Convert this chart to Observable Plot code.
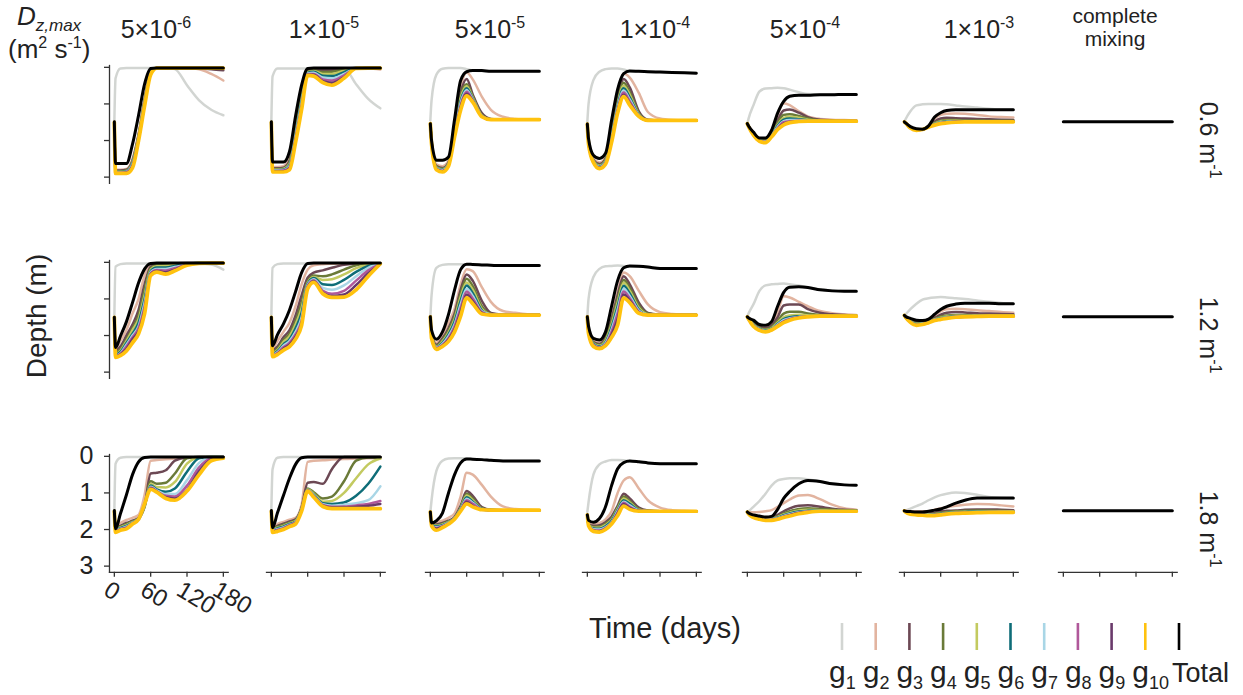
<!DOCTYPE html>
<html><head><meta charset="utf-8">
<script src="https://cdn.jsdelivr.net/npm/d3@7"></script>
<script src="https://cdn.jsdelivr.net/npm/@observablehq/plot@0.6"></script>
<style>
body{margin:0;background:#fff;}
#chart{position:relative;width:1243px;height:695px;overflow:hidden;font-family:"Liberation Sans",Arial,sans-serif;background:#fff;}
#chart svg{position:absolute;background:transparent;max-width:none;}
</style></head><body><div id="chart"></div>
<script>
// ---------- data ----------
const days = [0, 2, 10, 20, 30, 40, 50, 60, 70, 85, 100, 120, 140, 160, 180];
const seriesNames = ["g1","g2","g3","g4","g5","g6","g7","g8","g9","g10","Total"];
const seriesColors = ["#d2d5d2","#e2b4a0","#6c4854","#6a7a38","#c3ca60","#0e6d78","#a9d6e6","#b0589a","#6a3a6b","#ffc20e","#000000"];
const seriesWidths = [2.5, 2.5, 2.5, 2.5, 2.5, 2.5, 2.5, 2.5, 2.5, 3.7, 3.0];
const dzBase = ["5×10","1×10","5×10","1×10","5×10","1×10"];
const dzExp = ["-6","-5","-5","-4","-4","-3"];
const kdLabels = ["0.6", "1.2", "1.8"];
const xTicks = [0, 60, 120, 180];
const yTicks = [0, 1, 2, 3];
const mixDays = [0, 180];
const mixDepth = [1.49, 1.49, 1.49];

const r1c1 = [
[1.49,0.3,0.03,0.02,0.02,0.02,0.02,0.02,0.02,0.02,0.05,0.49,0.9,1.16,1.31],
[1.5,2.8,2.8,2.78,2.5,1.8,0.85,0.1,0.02,0.02,0.02,0.02,0.05,0.18,0.36],
[1.5,2.82,2.82,2.8,2.55,1.85,0.9,0.12,0.02,0.02,0.02,0.02,0.03,0.05,0.08],
[1.5,2.84,2.84,2.82,2.58,1.88,0.92,0.13,0.02,0.02,0.02,0.02,0.02,0.02,0.02],
[1.5,2.85,2.85,2.83,2.6,1.9,0.94,0.14,0.02,0.02,0.02,0.02,0.02,0.02,0.02],
[1.5,2.86,2.86,2.84,2.62,1.92,0.96,0.15,0.02,0.02,0.02,0.02,0.02,0.02,0.02],
[1.5,2.87,2.87,2.85,2.65,1.94,0.98,0.16,0.02,0.02,0.02,0.02,0.02,0.02,0.02],
[1.5,2.88,2.88,2.86,2.68,1.96,1.0,0.17,0.02,0.02,0.02,0.02,0.02,0.02,0.02],
[1.5,2.89,2.89,2.88,2.7,1.98,1.02,0.18,0.02,0.02,0.02,0.02,0.02,0.02,0.02],
[1.5,2.9,2.9,2.9,2.75,2.0,1.05,0.2,0.02,0.02,0.02,0.02,0.02,0.02,0.02],
[1.49,2.63,2.63,2.63,2.1,1.31,0.45,0.03,0.02,0.02,0.02,0.02,0.02,0.02,0.02]];
const r1c2 = [
[1.49,0.25,0.03,0.03,0.03,0.03,0.03,0.03,0.03,0.03,0.03,0.03,0.46,0.86,1.12],
[1.5,2.72,2.72,2.7,2.45,1.55,0.6,0.08,0.03,0.04,0.03,0.03,0.03,0.03,0.06],
[1.5,2.76,2.76,2.74,2.55,1.65,0.7,0.1,0.05,0.08,0.07,0.03,0.02,0.02,0.02],
[1.5,2.78,2.78,2.76,2.6,1.72,0.78,0.12,0.08,0.13,0.12,0.06,0.02,0.02,0.02],
[1.5,2.8,2.8,2.78,2.64,1.78,0.85,0.14,0.1,0.18,0.18,0.09,0.03,0.02,0.02],
[1.5,2.81,2.81,2.8,2.67,1.83,0.92,0.15,0.12,0.23,0.24,0.13,0.03,0.02,0.02],
[1.5,2.82,2.82,2.81,2.7,1.88,0.98,0.17,0.15,0.28,0.3,0.18,0.03,0.02,0.02],
[1.5,2.83,2.83,2.82,2.73,1.93,1.04,0.18,0.18,0.33,0.36,0.22,0.03,0.02,0.02],
[1.5,2.84,2.84,2.84,2.76,1.98,1.1,0.2,0.2,0.38,0.42,0.27,0.03,0.02,0.02],
[1.5,2.86,2.86,2.86,2.8,2.05,1.15,0.22,0.24,0.42,0.49,0.3,0.03,0.02,0.02],
[1.49,2.59,2.59,2.59,2.3,1.33,0.48,0.03,0.02,0.02,0.02,0.02,0.02,0.02,0.02]];
const r1c3 = [
[1.45,0.9,0.2,0.04,0.02,0.02,0.02,0.05,0.09,0.1,0.11,0.11,0.11,0.11,0.11],
[1.54,2.0,2.65,2.7,2.55,1.6,0.55,0.14,0.33,0.8,1.16,1.35,1.41,1.43,1.43],
[1.54,2.02,2.7,2.75,2.6,1.68,0.7,0.32,0.74,1.25,1.41,1.43,1.43,1.43,1.43],
[1.54,2.04,2.72,2.77,2.62,1.72,0.78,0.46,0.8,1.3,1.42,1.43,1.43,1.43,1.43],
[1.54,2.05,2.74,2.79,2.64,1.76,0.85,0.52,0.83,1.32,1.43,1.43,1.43,1.43,1.43],
[1.54,2.06,2.75,2.8,2.65,1.8,0.92,0.57,0.86,1.33,1.43,1.43,1.43,1.43,1.43],
[1.54,2.07,2.76,2.81,2.66,1.83,0.98,0.62,0.88,1.33,1.43,1.43,1.43,1.43,1.43],
[1.54,2.08,2.77,2.83,2.67,1.86,1.04,0.67,0.9,1.34,1.43,1.43,1.43,1.43,1.43],
[1.54,2.09,2.78,2.84,2.68,1.88,1.1,0.72,0.92,1.34,1.43,1.43,1.43,1.43,1.43],
[1.54,2.1,2.8,2.86,2.7,1.9,1.17,0.78,0.95,1.35,1.43,1.43,1.43,1.43,1.43],
[1.54,2.0,2.54,2.54,2.45,1.42,0.36,0.12,0.09,0.09,0.11,0.11,0.11,0.11,0.11]];
const r1c4 = [
[1.49,1.0,0.35,0.12,0.05,0.03,0.03,0.06,0.1,0.11,0.12,0.13,0.14,0.15,0.15],
[1.55,2.0,2.5,2.6,2.45,1.65,0.8,0.17,0.28,0.7,1.22,1.4,1.44,1.45,1.45],
[1.55,2.03,2.53,2.64,2.5,1.75,0.88,0.32,0.55,1.2,1.43,1.45,1.45,1.45,1.45],
[1.55,2.04,2.55,2.67,2.53,1.8,0.95,0.42,0.68,1.25,1.44,1.45,1.45,1.45,1.45],
[1.55,2.05,2.56,2.69,2.55,1.85,1.0,0.5,0.75,1.28,1.45,1.45,1.45,1.45,1.45],
[1.55,2.06,2.57,2.71,2.57,1.9,1.05,0.57,0.82,1.3,1.45,1.45,1.45,1.45,1.45],
[1.55,2.07,2.58,2.72,2.59,1.94,1.1,0.63,0.88,1.31,1.45,1.45,1.45,1.45,1.45],
[1.55,2.08,2.59,2.74,2.61,1.98,1.15,0.69,0.93,1.32,1.45,1.45,1.45,1.45,1.45],
[1.55,2.09,2.6,2.75,2.63,2.02,1.2,0.75,0.98,1.33,1.45,1.45,1.45,1.45,1.45],
[1.55,2.1,2.6,2.77,2.65,2.05,1.25,0.8,1.03,1.34,1.45,1.45,1.45,1.45,1.45],
[1.55,1.95,2.4,2.49,2.35,1.45,0.6,0.17,0.1,0.11,0.12,0.13,0.14,0.15,0.16]];
const r1c5 = [
[1.54,1.4,1.04,0.66,0.58,0.57,0.56,0.57,0.61,0.68,0.73,0.74,0.74,0.74,0.74],
[1.54,1.6,1.78,1.95,1.95,1.76,1.3,0.98,1.03,1.2,1.34,1.41,1.43,1.44,1.45],
[1.54,1.6,1.8,1.97,1.98,1.8,1.45,1.18,1.15,1.24,1.36,1.43,1.45,1.46,1.46],
[1.54,1.61,1.81,1.98,2.0,1.83,1.52,1.3,1.28,1.33,1.4,1.45,1.46,1.47,1.47],
[1.54,1.61,1.82,1.99,2.01,1.85,1.57,1.38,1.35,1.38,1.43,1.46,1.47,1.47,1.47],
[1.54,1.61,1.83,2.0,2.02,1.86,1.6,1.43,1.4,1.42,1.45,1.47,1.47,1.47,1.47],
[1.54,1.62,1.83,2.0,2.03,1.87,1.63,1.47,1.44,1.44,1.46,1.47,1.47,1.47,1.47],
[1.54,1.62,1.84,2.01,2.04,1.88,1.66,1.5,1.47,1.46,1.47,1.47,1.47,1.47,1.47],
[1.54,1.62,1.84,2.01,2.05,1.89,1.68,1.54,1.49,1.47,1.47,1.47,1.47,1.47,1.47],
[1.54,1.62,1.85,2.02,2.06,1.9,1.7,1.57,1.51,1.48,1.47,1.47,1.47,1.47,1.47],
[1.54,1.6,1.77,1.93,1.93,1.72,1.25,0.93,0.79,0.76,0.76,0.75,0.75,0.74,0.74]];
const r1c6 = [
[1.49,1.42,1.2,1.04,1.01,1.0,1.0,1.0,1.01,1.04,1.07,1.1,1.13,1.15,1.15],
[1.49,1.52,1.63,1.69,1.69,1.6,1.4,1.3,1.27,1.26,1.27,1.3,1.34,1.36,1.37],
[1.49,1.52,1.64,1.7,1.69,1.61,1.48,1.4,1.38,1.39,1.4,1.41,1.42,1.43,1.44],
[1.49,1.52,1.64,1.7,1.69,1.62,1.52,1.46,1.44,1.44,1.45,1.45,1.46,1.46,1.46],
[1.49,1.52,1.65,1.71,1.7,1.62,1.54,1.48,1.46,1.46,1.47,1.47,1.47,1.47,1.47],
[1.49,1.52,1.65,1.71,1.7,1.62,1.55,1.5,1.48,1.47,1.48,1.48,1.48,1.48,1.48],
[1.49,1.52,1.65,1.71,1.7,1.63,1.56,1.51,1.49,1.48,1.48,1.48,1.48,1.48,1.48],
[1.49,1.52,1.66,1.72,1.7,1.63,1.57,1.52,1.5,1.49,1.49,1.49,1.49,1.49,1.49],
[1.49,1.52,1.66,1.72,1.7,1.63,1.57,1.53,1.51,1.49,1.49,1.49,1.49,1.49,1.49],
[1.49,1.52,1.66,1.72,1.7,1.63,1.58,1.54,1.52,1.5,1.49,1.49,1.49,1.49,1.49],
[1.49,1.52,1.62,1.68,1.69,1.6,1.36,1.24,1.18,1.16,1.16,1.16,1.16,1.16,1.16]];
const r2c1 = [
[1.49,0.12,0.05,0.03,0.03,0.03,0.03,0.03,0.03,0.03,0.03,0.03,0.03,0.06,0.2],
[1.5,2.35,2.15,1.85,1.4,1.0,0.35,0.06,0.04,0.03,0.03,0.03,0.03,0.03,0.03],
[1.5,2.4,2.3,2.0,1.7,1.3,0.6,0.12,0.05,0.04,0.03,0.02,0.02,0.02,0.02],
[1.5,2.45,2.38,2.1,1.8,1.45,0.75,0.16,0.08,0.07,0.05,0.03,0.02,0.02,0.02],
[1.5,2.5,2.42,2.15,1.85,1.55,0.9,0.2,0.11,0.1,0.07,0.03,0.02,0.02,0.02],
[1.5,2.52,2.45,2.2,1.95,1.65,1.0,0.24,0.14,0.14,0.1,0.04,0.02,0.02,0.02],
[1.5,2.54,2.48,2.25,2.0,1.75,1.1,0.27,0.18,0.18,0.13,0.05,0.02,0.02,0.02],
[1.5,2.56,2.5,2.3,2.05,1.8,1.2,0.3,0.21,0.22,0.16,0.06,0.03,0.02,0.02],
[1.5,2.58,2.52,2.36,2.1,1.88,1.3,0.33,0.24,0.27,0.2,0.07,0.03,0.02,0.02],
[1.5,2.6,2.55,2.42,2.2,1.95,1.4,0.36,0.27,0.32,0.23,0.08,0.03,0.02,0.02],
[1.5,2.33,2.02,1.62,1.1,0.56,0.18,0.03,0.02,0.02,0.02,0.02,0.02,0.02,0.02]];
const r2c2 = [
[1.5,0.15,0.05,0.03,0.03,0.03,0.03,0.03,0.03,0.03,0.03,0.03,0.03,0.03,0.03],
[1.5,2.35,2.15,1.9,1.65,1.2,0.6,0.2,0.08,0.05,0.04,0.03,0.03,0.03,0.03],
[1.5,2.4,2.3,2.05,1.85,1.45,0.9,0.42,0.28,0.22,0.15,0.07,0.04,0.03,0.03],
[1.5,2.44,2.36,2.12,1.95,1.6,1.1,0.52,0.36,0.38,0.33,0.2,0.08,0.04,0.03],
[1.5,2.47,2.4,2.18,2.02,1.7,1.25,0.56,0.4,0.48,0.46,0.33,0.16,0.06,0.03],
[1.5,2.5,2.43,2.24,2.1,1.8,1.38,0.59,0.43,0.6,0.62,0.48,0.26,0.1,0.03],
[1.5,2.52,2.46,2.28,2.15,1.9,1.5,0.62,0.46,0.7,0.75,0.63,0.38,0.15,0.04],
[1.5,2.54,2.48,2.32,2.2,1.97,1.6,0.65,0.49,0.78,0.86,0.78,0.5,0.22,0.05],
[1.5,2.56,2.5,2.36,2.25,2.03,1.68,0.68,0.52,0.83,0.92,0.88,0.62,0.3,0.05],
[1.5,2.58,2.52,2.4,2.3,2.1,1.72,0.72,0.55,0.86,0.96,0.95,0.75,0.38,0.04],
[1.5,2.28,1.98,1.68,1.3,0.8,0.28,0.03,0.02,0.02,0.02,0.02,0.02,0.02,0.02]];
const r2c3 = [
[1.49,0.9,0.15,0.07,0.05,0.05,0.05,0.05,0.06,0.07,0.08,0.09,0.09,0.09,0.09],
[1.49,1.95,2.2,1.98,1.65,1.27,0.6,0.19,0.24,0.68,1.08,1.33,1.38,1.42,1.44],
[1.49,1.98,2.25,2.08,1.8,1.4,0.75,0.33,0.5,1.05,1.38,1.43,1.44,1.44,1.44],
[1.49,2.0,2.28,2.12,1.86,1.48,0.85,0.45,0.65,1.2,1.41,1.44,1.44,1.44,1.44],
[1.49,2.02,2.3,2.16,1.92,1.55,0.95,0.55,0.75,1.27,1.42,1.44,1.44,1.44,1.44],
[1.49,2.03,2.32,2.2,1.97,1.62,1.05,0.63,0.84,1.31,1.43,1.44,1.44,1.44,1.44],
[1.49,2.04,2.33,2.23,2.02,1.7,1.15,0.72,0.92,1.34,1.43,1.44,1.44,1.44,1.44],
[1.49,2.05,2.34,2.26,2.07,1.76,1.25,0.8,0.99,1.36,1.44,1.44,1.44,1.44,1.44],
[1.49,2.06,2.36,2.28,2.11,1.83,1.35,0.88,1.06,1.38,1.44,1.44,1.44,1.44,1.44],
[1.49,2.08,2.38,2.3,2.16,1.9,1.47,0.97,1.13,1.41,1.44,1.44,1.44,1.44,1.44],
[1.49,1.85,2.1,1.9,1.42,0.75,0.2,0.05,0.06,0.07,0.08,0.09,0.09,0.09,0.09]];
const r2c4 = [
[1.49,1.0,0.4,0.18,0.11,0.1,0.09,0.1,0.11,0.12,0.13,0.16,0.17,0.17,0.17],
[1.49,1.8,2.15,2.2,2.0,1.45,0.8,0.28,0.38,0.78,1.15,1.36,1.41,1.43,1.44],
[1.49,1.83,2.18,2.23,2.05,1.55,0.9,0.38,0.6,1.1,1.38,1.43,1.44,1.44,1.44],
[1.49,1.85,2.2,2.26,2.1,1.62,1.0,0.48,0.7,1.18,1.4,1.44,1.44,1.44,1.44],
[1.49,1.86,2.22,2.28,2.14,1.7,1.1,0.56,0.78,1.24,1.42,1.44,1.44,1.44,1.44],
[1.49,1.88,2.23,2.3,2.18,1.77,1.2,0.64,0.85,1.29,1.43,1.44,1.44,1.44,1.44],
[1.49,1.9,2.25,2.32,2.21,1.84,1.3,0.72,0.92,1.32,1.43,1.44,1.44,1.44,1.44],
[1.49,1.91,2.26,2.33,2.24,1.9,1.4,0.8,0.98,1.35,1.44,1.44,1.44,1.44,1.44],
[1.49,1.93,2.28,2.35,2.26,1.97,1.55,0.88,1.04,1.37,1.44,1.44,1.44,1.44,1.44],
[1.49,1.95,2.3,2.36,2.28,2.05,1.72,0.97,1.1,1.39,1.44,1.44,1.44,1.44,1.44],
[1.49,1.75,2.08,2.12,1.9,1.2,0.5,0.15,0.1,0.11,0.13,0.17,0.17,0.17,0.17]];
const r2c5 = [
[1.49,1.4,1.15,0.78,0.63,0.6,0.59,0.58,0.6,0.63,0.68,0.74,0.77,0.78,0.79],
[1.49,1.52,1.6,1.72,1.74,1.65,1.35,0.93,0.96,1.08,1.2,1.33,1.39,1.42,1.44],
[1.49,1.53,1.65,1.76,1.8,1.72,1.5,1.18,1.15,1.15,1.28,1.38,1.42,1.44,1.46],
[1.49,1.53,1.68,1.79,1.83,1.77,1.6,1.4,1.35,1.35,1.4,1.44,1.46,1.46,1.46],
[1.49,1.54,1.7,1.81,1.85,1.8,1.65,1.5,1.45,1.43,1.45,1.46,1.46,1.46,1.46],
[1.49,1.54,1.71,1.82,1.87,1.82,1.68,1.55,1.5,1.47,1.47,1.47,1.47,1.47,1.47],
[1.49,1.54,1.72,1.83,1.88,1.83,1.7,1.58,1.53,1.49,1.47,1.47,1.47,1.47,1.47],
[1.49,1.55,1.73,1.84,1.89,1.84,1.72,1.61,1.55,1.5,1.48,1.47,1.47,1.47,1.47],
[1.49,1.55,1.74,1.85,1.9,1.85,1.74,1.63,1.57,1.51,1.48,1.47,1.47,1.47,1.47],
[1.49,1.55,1.75,1.86,1.9,1.85,1.75,1.65,1.58,1.52,1.49,1.47,1.47,1.47,1.47],
[1.49,1.52,1.58,1.7,1.72,1.62,1.2,0.82,0.68,0.67,0.69,0.75,0.78,0.79,0.79]];
const r2c6 = [
[1.45,1.42,1.28,1.13,1.02,0.98,0.96,0.95,0.96,0.98,1.0,1.04,1.08,1.11,1.13],
[1.45,1.49,1.55,1.6,1.61,1.57,1.45,1.34,1.28,1.27,1.28,1.31,1.33,1.36,1.38],
[1.45,1.49,1.58,1.64,1.64,1.6,1.52,1.43,1.38,1.36,1.37,1.39,1.4,1.41,1.42],
[1.45,1.5,1.6,1.67,1.66,1.62,1.55,1.48,1.45,1.44,1.44,1.45,1.45,1.45,1.45],
[1.45,1.5,1.61,1.68,1.67,1.63,1.56,1.51,1.48,1.46,1.46,1.46,1.46,1.46,1.46],
[1.45,1.5,1.62,1.69,1.68,1.63,1.57,1.53,1.5,1.48,1.47,1.47,1.47,1.47,1.47],
[1.45,1.5,1.62,1.7,1.68,1.64,1.57,1.54,1.51,1.49,1.48,1.47,1.47,1.47,1.47],
[1.45,1.5,1.63,1.71,1.69,1.64,1.58,1.55,1.52,1.49,1.48,1.47,1.47,1.47,1.47],
[1.45,1.5,1.63,1.71,1.69,1.65,1.58,1.55,1.52,1.5,1.49,1.48,1.47,1.47,1.47],
[1.45,1.5,1.64,1.72,1.7,1.65,1.59,1.56,1.53,1.5,1.49,1.48,1.47,1.47,1.47],
[1.45,1.48,1.53,1.58,1.59,1.55,1.42,1.29,1.2,1.14,1.12,1.12,1.12,1.13,1.13]];
const r3c1 = [
[1.5,0.2,0.04,0.02,0.02,0.02,0.02,0.02,0.02,0.02,0.02,0.02,0.02,0.02,0.02],
[1.5,1.9,1.82,1.74,1.68,1.6,1.05,0.12,0.1,0.08,0.06,0.04,0.03,0.02,0.02],
[1.5,1.95,1.9,1.82,1.76,1.68,1.35,0.47,0.45,0.38,0.12,0.03,0.02,0.02,0.02],
[1.5,1.97,1.92,1.85,1.78,1.7,1.38,0.68,0.75,0.72,0.47,0.05,0.02,0.02,0.02],
[1.5,1.99,1.94,1.88,1.8,1.71,1.36,0.75,0.84,0.85,0.7,0.2,0.03,0.02,0.02],
[1.5,2.0,1.96,1.9,1.81,1.72,1.34,0.8,0.9,0.97,0.88,0.42,0.05,0.02,0.02],
[1.5,2.02,1.98,1.92,1.82,1.72,1.33,0.83,0.93,1.03,1.03,0.65,0.18,0.03,0.02],
[1.5,2.04,1.99,1.94,1.83,1.72,1.32,0.85,0.95,1.08,1.1,0.8,0.3,0.06,0.02],
[1.5,2.06,2.0,1.96,1.84,1.72,1.31,0.87,0.96,1.12,1.15,0.92,0.4,0.09,0.03],
[1.5,2.08,2.02,1.98,1.85,1.72,1.3,0.9,0.98,1.15,1.2,0.95,0.5,0.12,0.05],
[1.48,1.98,1.57,1.05,0.5,0.15,0.03,0.02,0.02,0.02,0.02,0.02,0.02,0.02,0.02]];
const r3c2 = [
[1.48,0.35,0.04,0.02,0.02,0.02,0.02,0.02,0.02,0.02,0.02,0.02,0.02,0.02,0.02],
[1.5,1.92,1.85,1.79,1.73,1.68,1.32,0.15,0.12,0.11,0.09,0.07,0.06,0.05,0.05],
[1.5,1.96,1.9,1.84,1.78,1.72,1.4,0.72,0.7,0.75,0.35,0.02,0.02,0.02,0.02],
[1.5,1.98,1.93,1.87,1.81,1.75,1.42,0.88,0.98,1.15,1.1,0.68,0.12,0.03,0.03],
[1.5,2.0,1.95,1.9,1.83,1.77,1.44,0.9,1.02,1.24,1.22,1.0,0.6,0.22,0.06],
[1.5,2.02,1.97,1.92,1.85,1.79,1.45,0.91,1.05,1.28,1.3,1.26,1.08,0.75,0.28],
[1.5,2.03,1.99,1.94,1.87,1.8,1.46,0.92,1.07,1.31,1.35,1.32,1.28,1.2,0.82],
[1.5,2.04,2.01,1.96,1.88,1.81,1.47,0.93,1.09,1.33,1.38,1.37,1.34,1.3,1.22],
[1.5,2.06,2.03,1.98,1.9,1.83,1.48,0.94,1.1,1.35,1.4,1.4,1.38,1.35,1.3],
[1.5,2.08,2.05,2.0,1.92,1.85,1.5,0.95,1.12,1.37,1.43,1.43,1.43,1.43,1.43],
[1.48,1.95,1.55,1.07,0.6,0.22,0.04,0.02,0.02,0.02,0.02,0.02,0.02,0.02,0.02]];
const r3c3 = [
[1.52,1.2,0.4,0.12,0.06,0.05,0.05,0.06,0.08,0.09,0.11,0.13,0.13,0.13,0.13],
[1.52,1.85,1.8,1.76,1.68,1.56,1.1,0.45,0.5,0.78,1.1,1.37,1.44,1.46,1.47],
[1.52,1.88,1.86,1.82,1.76,1.66,1.35,0.95,1.08,1.39,1.46,1.47,1.47,1.47,1.47],
[1.52,1.88,1.88,1.84,1.78,1.68,1.4,1.02,1.15,1.42,1.46,1.47,1.47,1.47,1.47],
[1.52,1.89,1.9,1.86,1.8,1.69,1.42,1.07,1.2,1.43,1.47,1.47,1.47,1.47,1.47],
[1.52,1.89,1.92,1.88,1.81,1.7,1.44,1.12,1.24,1.44,1.47,1.47,1.47,1.47,1.47],
[1.52,1.89,1.94,1.9,1.82,1.7,1.46,1.16,1.27,1.45,1.47,1.47,1.47,1.47,1.47],
[1.52,1.9,1.96,1.91,1.83,1.71,1.47,1.2,1.3,1.45,1.47,1.47,1.47,1.47,1.47],
[1.52,1.9,1.98,1.93,1.84,1.71,1.49,1.24,1.35,1.46,1.47,1.47,1.47,1.47,1.47],
[1.52,1.9,2.02,1.95,1.85,1.72,1.5,1.3,1.38,1.46,1.47,1.47,1.47,1.47,1.47],
[1.52,1.82,1.76,1.55,1.0,0.5,0.18,0.07,0.08,0.09,0.11,0.13,0.13,0.13,0.13]];
const r3c4 = [
[1.52,1.25,0.5,0.22,0.14,0.1,0.1,0.11,0.13,0.15,0.18,0.2,0.2,0.2,0.2],
[1.6,1.82,1.85,1.82,1.72,1.5,1.0,0.66,0.57,0.88,1.2,1.4,1.47,1.49,1.5],
[1.6,1.85,1.9,1.88,1.8,1.65,1.35,1.02,1.15,1.4,1.48,1.5,1.5,1.5,1.5],
[1.6,1.86,1.93,1.92,1.84,1.7,1.4,1.1,1.22,1.44,1.49,1.5,1.5,1.5,1.5],
[1.6,1.87,1.95,1.95,1.88,1.74,1.43,1.15,1.26,1.46,1.5,1.5,1.5,1.5,1.5],
[1.6,1.88,1.97,1.98,1.91,1.77,1.46,1.2,1.3,1.47,1.5,1.5,1.5,1.5,1.5],
[1.6,1.88,1.99,2.0,1.94,1.8,1.5,1.24,1.34,1.48,1.5,1.5,1.5,1.5,1.5],
[1.6,1.89,2.01,2.03,1.96,1.82,1.53,1.27,1.38,1.49,1.5,1.5,1.5,1.5,1.5],
[1.6,1.89,2.03,2.05,1.98,1.84,1.56,1.3,1.41,1.49,1.5,1.5,1.5,1.5,1.5],
[1.6,1.9,2.05,2.07,2.0,1.85,1.62,1.36,1.45,1.5,1.5,1.5,1.5,1.5,1.5],
[1.6,1.75,1.8,1.7,1.38,0.8,0.34,0.17,0.13,0.15,0.18,0.2,0.2,0.2,0.2]];
const r3c5 = [
[1.52,1.5,1.38,1.22,1.02,0.8,0.66,0.62,0.6,0.6,0.63,0.68,0.75,0.78,0.79],
[1.52,1.53,1.53,1.52,1.5,1.47,1.38,1.28,1.18,1.07,1.06,1.17,1.32,1.42,1.46],
[1.52,1.56,1.62,1.66,1.68,1.66,1.6,1.5,1.42,1.35,1.34,1.38,1.43,1.46,1.47],
[1.52,1.56,1.63,1.68,1.7,1.69,1.64,1.56,1.5,1.44,1.42,1.44,1.46,1.48,1.48],
[1.52,1.56,1.64,1.69,1.71,1.7,1.66,1.59,1.54,1.48,1.46,1.47,1.48,1.49,1.49],
[1.52,1.57,1.65,1.7,1.72,1.71,1.68,1.61,1.56,1.51,1.49,1.48,1.49,1.49,1.49],
[1.52,1.57,1.65,1.7,1.73,1.72,1.69,1.63,1.58,1.53,1.5,1.49,1.5,1.5,1.5],
[1.52,1.57,1.66,1.71,1.74,1.73,1.7,1.64,1.6,1.54,1.51,1.5,1.5,1.5,1.5],
[1.52,1.57,1.66,1.71,1.74,1.74,1.71,1.66,1.61,1.55,1.52,1.5,1.5,1.5,1.5],
[1.52,1.57,1.67,1.72,1.75,1.75,1.72,1.67,1.63,1.57,1.53,1.5,1.5,1.5,1.5],
[1.52,1.55,1.6,1.63,1.66,1.64,1.45,1.15,0.96,0.75,0.66,0.69,0.75,0.78,0.79]];
const r3c6 = [
[1.49,1.48,1.43,1.36,1.29,1.2,1.12,1.06,1.02,0.99,1.0,1.05,1.11,1.14,1.15],
[1.49,1.49,1.5,1.5,1.5,1.5,1.46,1.42,1.39,1.35,1.32,1.3,1.31,1.34,1.37],
[1.49,1.5,1.53,1.55,1.56,1.56,1.54,1.5,1.49,1.48,1.46,1.45,1.45,1.46,1.47],
[1.49,1.5,1.54,1.56,1.57,1.58,1.57,1.54,1.52,1.5,1.49,1.48,1.48,1.49,1.5],
[1.49,1.51,1.55,1.57,1.58,1.59,1.58,1.56,1.54,1.52,1.51,1.5,1.5,1.51,1.51],
[1.49,1.51,1.55,1.58,1.59,1.6,1.59,1.57,1.55,1.53,1.52,1.51,1.51,1.52,1.52],
[1.49,1.51,1.56,1.58,1.59,1.6,1.6,1.58,1.56,1.54,1.53,1.52,1.52,1.52,1.52],
[1.49,1.51,1.56,1.59,1.6,1.61,1.6,1.58,1.57,1.55,1.54,1.53,1.52,1.52,1.53],
[1.49,1.52,1.57,1.59,1.6,1.61,1.61,1.59,1.57,1.55,1.54,1.53,1.53,1.53,1.53],
[1.49,1.52,1.58,1.6,1.61,1.62,1.62,1.6,1.58,1.56,1.55,1.54,1.53,1.53,1.53],
[1.49,1.5,1.51,1.52,1.52,1.5,1.47,1.44,1.38,1.28,1.2,1.14,1.14,1.14,1.14]];

const panels = [
  [r1c1, r1c2, r1c3, r1c4, r1c5, r1c6],
  [r2c1, r2c2, r2c3, r2c4, r2c5, r2c6],
  [r3c1, r3c2, r3c3, r3c4, r3c5, r3c6]
];

// ---------- layout ----------
const FONT = '"Liberation Sans", Arial, sans-serif';
const AXIS = "#333";
const colLeft = [114, 271, 430, 587, 747, 904, 1063];   // pixel of day 0
const rowTop = [67, 262, 456];                          // pixel of depth 0
const pxDay = 109 / 180, pxM = 36.6;
const xDom = [-8, 188], yDom = [-0.05, 3.17];
const ML = 60, MR = 6, MT = 4, MB = 64;
const innerW = (xDom[1] - xDom[0]) * pxDay, innerH = (yDom[1] - yDom[0]) * pxM;
const chart = document.getElementById("chart");

function tidy(r, c) {
  if (c === 6) return mixDays.map(d => ({series: "Total", day: d, depth: mixDepth[r]}));
  return panels[r][c].flatMap((vals, s) => vals.map((v, i) => ({series: seriesNames[s], day: days[i], depth: v})));
}

function makePanel(r, c) {
  const left = c === 0, bottom = r === 2, labels = r === 2 && c === 0;
  const rows = tidy(r, c);
  const marks = [];
  seriesNames.forEach((name, s) => {
    const d = rows.filter(o => o.series === name);
    if (d.length) marks.push(Plot.line(d, {x: "day", y: "depth", stroke: seriesColors[s], strokeWidth: seriesWidths[s], curve: "monotone-x", strokeLinejoin: "round"}));
  });
  if (left) {
    marks.push(Plot.frame({anchor: "left", stroke: AXIS, strokeWidth: 1.3}));
    marks.push(Plot.axisY({ticks: yTicks, tickSize: 5, tickPadding: 11, stroke: AXIS, strokeWidth: 1.3, fontSize: 25,
      tickFormat: labels ? d => String(d) : () => ""}));
  }
  if (bottom) {
    marks.push(Plot.frame({anchor: "bottom", stroke: AXIS, strokeWidth: 1.3}));
    marks.push(Plot.axisX({ticks: xTicks, tickSize: 5, stroke: AXIS, strokeWidth: 1.3, tickFormat: () => ""}));
    if (labels) marks.push(Plot.text(xTicks, {x: d => d, frameAnchor: "bottom", text: d => String(d), rotate: 31,
      textAnchor: "start", dx: -12, dy: 22, fontSize: 24, fill: "#222"}));
  }
  const svg = Plot.plot({
    width: ML + innerW + MR, height: MT + innerH + MB,
    marginLeft: ML, marginRight: MR, marginTop: MT, marginBottom: MB,
    x: {domain: xDom, axis: bottom ? undefined : null, label: null},
    y: {domain: yDom, reverse: true, axis: left ? undefined : null, label: null},
    style: {fontFamily: FONT, fontSize: "24px", color: "#222", background: "transparent", overflow: "visible"},
    marks
  });
  svg.style.left = (colLeft[c] - (0 - xDom[0]) * pxDay - ML) + "px";
  svg.style.top = (rowTop[r] - (0 - yDom[0]) * pxM - MT) + "px";
  chart.appendChild(svg);
}

for (let r = 0; r < 3; r++) for (let c = 0; c < 7; c++) makePanel(r, c);

// ---------- text overlay & legend ----------
const ov = d3.select(chart).append("svg").attr("width", 1243).attr("height", 695)
  .style("left", "0px").style("top", "0px").style("font-family", FONT).attr("fill", "#222");

function sup(t, base, exp, bs, es, lift) {
  t.append("tspan").attr("font-size", bs).text(base);
  t.append("tspan").attr("font-size", es).attr("dy", -lift).text(exp);
}

const headerX = [156, 324, 490, 655, 805, 979];
dzBase.forEach((b, i) => {
  const t = ov.append("text").attr("x", headerX[i]).attr("y", 38).attr("text-anchor", "middle");
  sup(t, b, dzExp[i], 25, 16, 10);
});
ov.append("text").attr("x", 1115).attr("y", 23).attr("text-anchor", "middle").attr("font-size", 21).text("complete");
ov.append("text").attr("x", 1115).attr("y", 46).attr("text-anchor", "middle").attr("font-size", 21).text("mixing");

// D z,max label
const dz = ov.append("text").attr("x", 17).attr("y", 25).attr("font-style", "italic");
dz.append("tspan").attr("font-size", 26).text("D");
dz.append("tspan").attr("font-size", 17).attr("dy", 6).text("z,max");
const un = ov.append("text").attr("x", 8).attr("y", 58).attr("font-size", 26);
un.append("tspan").text("(m");
un.append("tspan").attr("font-size", 16).attr("dy", -10).text("2");
un.append("tspan").attr("dy", 10).text(" s");
un.append("tspan").attr("font-size", 16).attr("dy", -10).text("-1");
un.append("tspan").attr("dy", 10).text(")");

// row labels
kdLabels.forEach((k, r) => {
  const t = ov.append("text").attr("transform", `translate(1206,${rowTop[r] + 73}) rotate(90)`)
    .attr("text-anchor", "middle").attr("dy", "0.35em");
  t.append("tspan").attr("font-size", 25).text(k + " m");
  t.append("tspan").attr("font-size", 16).attr("dy", -10).text("-1");
});

// axis titles
ov.append("text").attr("transform", "translate(36,316) rotate(-90)").attr("text-anchor", "middle")
  .attr("dy", "0.35em").attr("font-size", 28).text("Depth (m)");
ov.append("text").attr("x", 665).attr("y", 638).attr("text-anchor", "middle").attr("font-size", 29).text("Time (days)");

// legend
const lg = ov.append("g");
seriesNames.forEach((name, i) => {
  const x = 842 + i * 33.7;
  lg.append("line").attr("x1", x).attr("x2", x).attr("y1", 623).attr("y2", 650)
    .attr("stroke", seriesColors[i]).attr("stroke-width", 2.6);
  const t = lg.append("text").attr("y", 682);
  if (name === "Total") {
    t.attr("x", x - 7).attr("font-size", 27).text("Total");
  } else {
    t.attr("x", x - 13);
    t.append("tspan").attr("font-size", 30).text("g");
    t.append("tspan").attr("font-size", 18).attr("dy", 7).text(name.slice(1));
  }
});
</script></body></html>
